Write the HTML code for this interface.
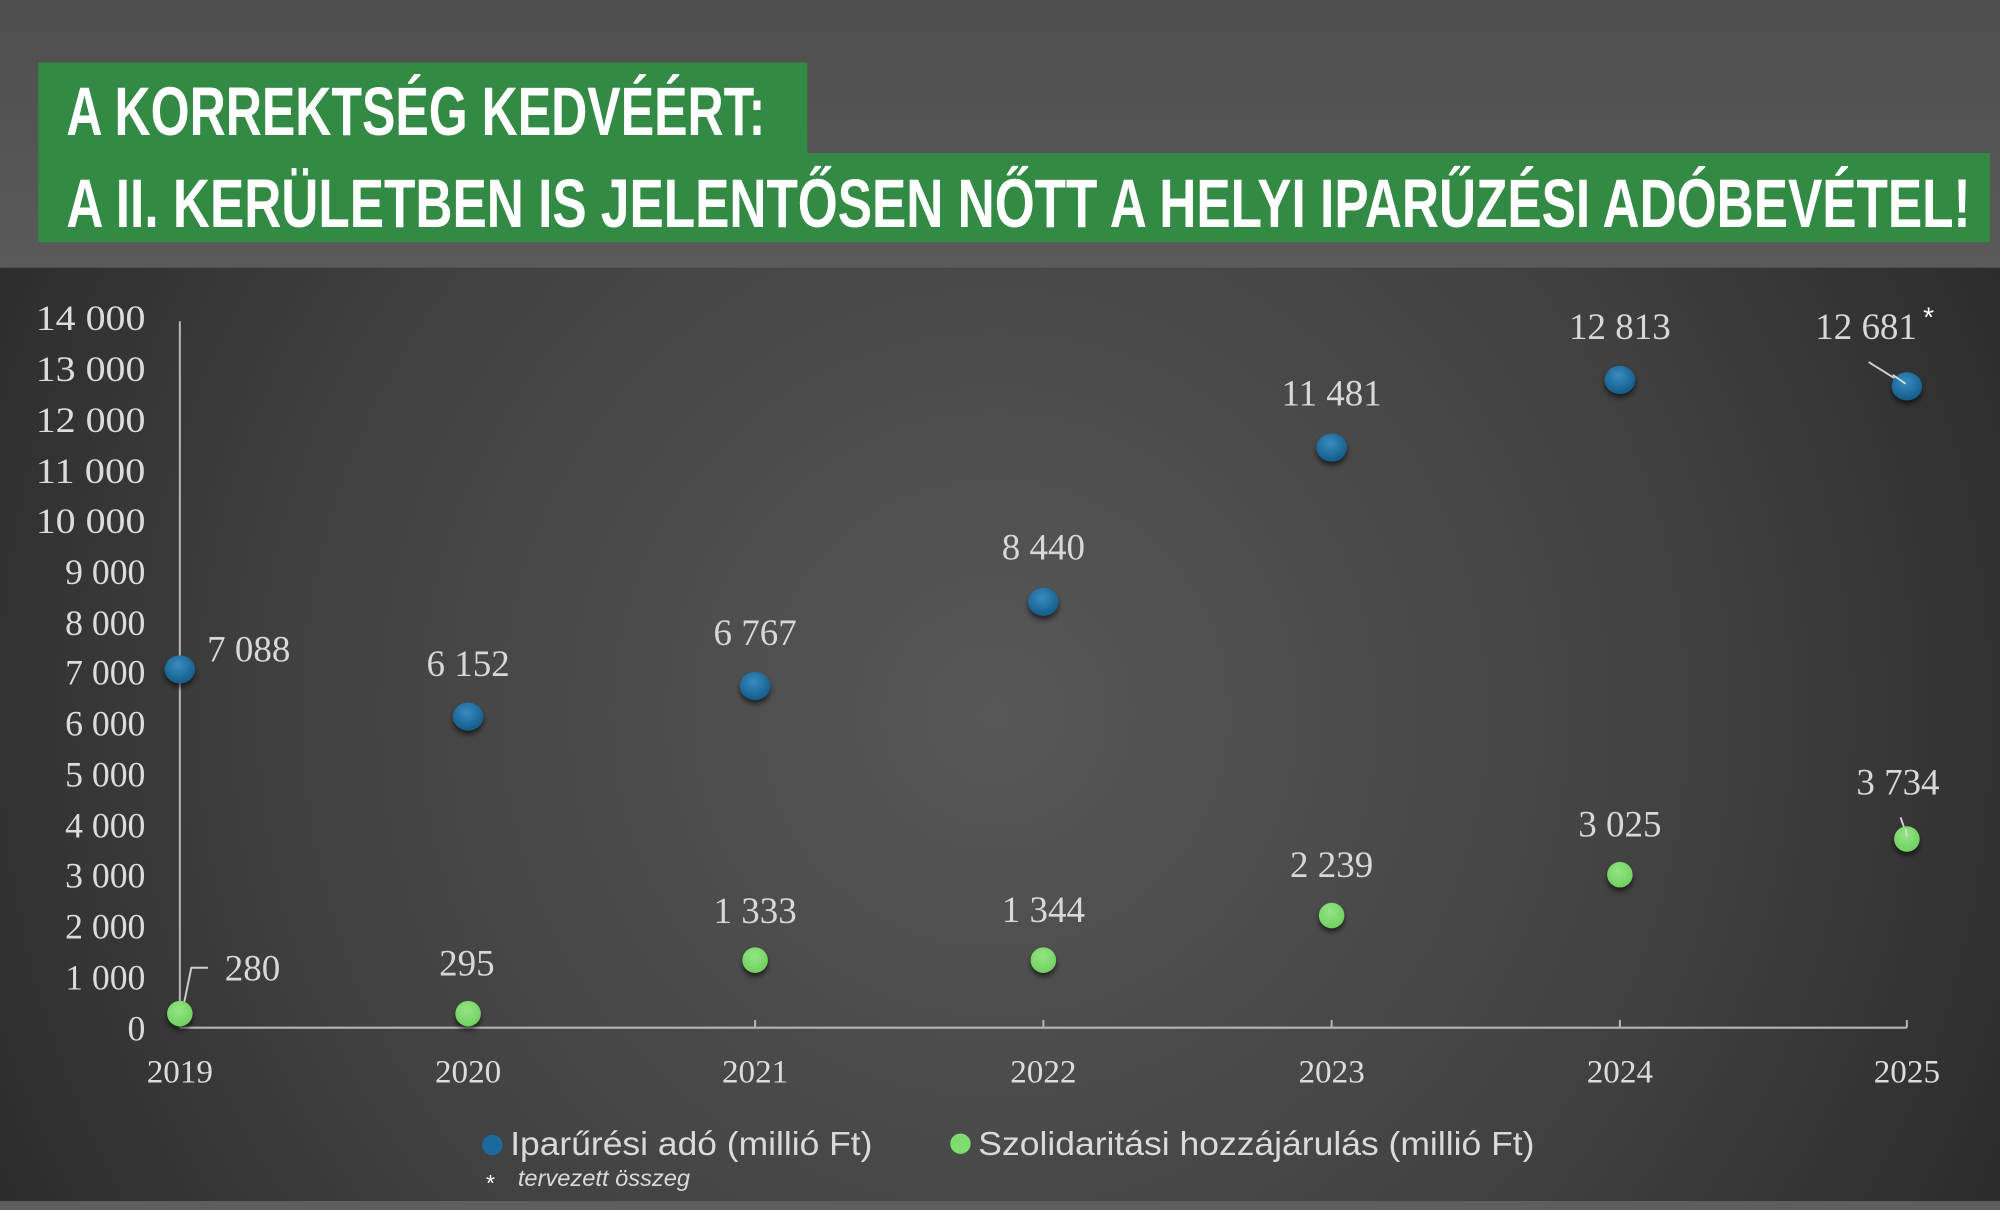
<!DOCTYPE html>
<html><head><meta charset="utf-8"><style>
html,body{margin:0;padding:0;background:#555;}
svg{display:block;}
</style></head><body>
<svg width="2000" height="1210" viewBox="0 0 1568 949" preserveAspectRatio="none" xmlns="http://www.w3.org/2000/svg">
<defs>
<radialGradient id="bg" cx="780" cy="560" r="900" gradientUnits="userSpaceOnUse">
<stop offset="0" stop-color="#575757"/><stop offset="0.6" stop-color="#414141"/><stop offset="1" stop-color="#2a2a2a"/>
</radialGradient>
<linearGradient id="hd" x1="0" y1="0" x2="0" y2="1"><stop offset="0" stop-color="#4e4e4e"/><stop offset="1" stop-color="#5a5a5a"/></linearGradient>
<radialGradient id="bd" cx="0.45" cy="0.35" r="0.6"><stop offset="0" stop-color="#3a8cc0"/><stop offset="1" stop-color="#155f8e"/></radialGradient>
<radialGradient id="gd" cx="0.45" cy="0.35" r="0.6"><stop offset="0" stop-color="#95e585"/><stop offset="1" stop-color="#72d262"/></radialGradient>
<filter id="sh" x="-50%" y="-50%" width="200%" height="200%"><feDropShadow dx="0" dy="3" stdDeviation="2" flood-color="#000" flood-opacity="0.6"/></filter>
</defs>
<rect x="0" y="0" width="1568" height="210" fill="url(#hd)"/>
<rect x="0" y="210" width="1568" height="732" fill="url(#bg)"/>
<rect x="0" y="942" width="1568" height="7" fill="#5e5e5e"/>
<rect x="30" y="49" width="603" height="72" fill="#338a45"/>
<rect x="30" y="120" width="1530" height="70" fill="#338a45"/>
<g font-family="Liberation Sans Narrow, Liberation Sans, sans-serif" font-weight="bold" fill="#fff" font-size="54">
<text x="52" y="106" textLength="548" lengthAdjust="spacingAndGlyphs">A KORREKTSÉG KEDVÉÉRT:</text>
<text x="52" y="178" textLength="1493" lengthAdjust="spacingAndGlyphs">A II. KERÜLETBEN IS JELENTŐSEN NŐTT A HELYI IPARŰZÉSI ADÓBEVÉTEL!</text>
</g>
<g stroke="#b5b5b5" stroke-width="1.6" fill="none">
<line x1="141" y1="252" x2="141" y2="806"/>
<line x1="141" y1="806" x2="1495" y2="806"/>
<line x1="367" y1="806" x2="367" y2="800"/><line x1="592" y1="806" x2="592" y2="800"/><line x1="818" y1="806" x2="818" y2="800"/><line x1="1044" y1="806" x2="1044" y2="800"/><line x1="1270" y1="806" x2="1270" y2="800"/><line x1="1495" y1="806" x2="1495" y2="800"/>
</g>
<g font-family="Liberation Serif, serif" font-size="28" fill="#dcdcdc" text-anchor="end">
<text x="114" y="259" textLength="86" lengthAdjust="spacingAndGlyphs">14 000</text>
<text x="114" y="299" textLength="86" lengthAdjust="spacingAndGlyphs">13 000</text>
<text x="114" y="339" textLength="86" lengthAdjust="spacingAndGlyphs">12 000</text>
<text x="114" y="379" textLength="86" lengthAdjust="spacingAndGlyphs">11 000</text>
<text x="114" y="418" textLength="86" lengthAdjust="spacingAndGlyphs">10 000</text>
<text x="114" y="458">9 000</text>
<text x="114" y="498">8 000</text>
<text x="114" y="537">7 000</text>
<text x="114" y="577">6 000</text>
<text x="114" y="617">5 000</text>
<text x="114" y="657">4 000</text>
<text x="114" y="696">3 000</text>
<text x="114" y="736">2 000</text>
<text x="114" y="776">1 000</text>
<text x="114" y="816">0</text>
</g>
<g font-family="Liberation Serif, serif" font-size="26" fill="#dcdcdc" text-anchor="middle">
<text x="141" y="849">2019</text><text x="367" y="849">2020</text><text x="592" y="849">2021</text><text x="818" y="849">2022</text><text x="1044" y="849">2023</text><text x="1270" y="849">2024</text><text x="1495" y="849">2025</text>
</g>
<g stroke="#d0d0d0" stroke-width="1.5" fill="none">
<polyline points="143,793 150,759 163,759"/>
<line x1="1465" y1="284" x2="1494" y2="302"/>
<line x1="1490" y1="641" x2="1495" y2="655"/>
</g>
<g filter="url(#sh)">
<ellipse cx="141" cy="525" rx="12" ry="11" fill="url(#bd)"/>
<ellipse cx="367" cy="562" rx="12" ry="11" fill="url(#bd)"/>
<ellipse cx="592" cy="538" rx="12" ry="11" fill="url(#bd)"/>
<ellipse cx="818" cy="472" rx="12" ry="11" fill="url(#bd)"/>
<ellipse cx="1044" cy="351" rx="12" ry="11" fill="url(#bd)"/>
<ellipse cx="1270" cy="298" rx="12" ry="11" fill="url(#bd)"/>
<ellipse cx="1495" cy="303" rx="12" ry="11" fill="url(#bd)"/>
<ellipse cx="141" cy="795" rx="10" ry="10" fill="url(#gd)"/>
<ellipse cx="367" cy="795" rx="10" ry="10" fill="url(#gd)"/>
<ellipse cx="592" cy="753" rx="10" ry="10" fill="url(#gd)"/>
<ellipse cx="818" cy="753" rx="10" ry="10" fill="url(#gd)"/>
<ellipse cx="1044" cy="718" rx="10" ry="10" fill="url(#gd)"/>
<ellipse cx="1270" cy="686" rx="10" ry="10" fill="url(#gd)"/>
<ellipse cx="1495" cy="658" rx="10" ry="10" fill="url(#gd)"/>
</g>
<g stroke="#e0e0e0" stroke-width="1.3"><line x1="1484" y1="294" x2="1494" y2="301"/><line x1="1494" y1="650" x2="1495" y2="656"/></g>
<g font-family="Liberation Serif, serif" font-size="29" fill="#d8d8d8" text-anchor="middle">
<text x="195" y="519">7 088</text>
<text x="367" y="530">6 152</text>
<text x="592" y="506">6 767</text>
<text x="818" y="439">8 440</text>
<text x="1044" y="318">11 481</text>
<text x="1270" y="266">12 813</text>
<text x="1463" y="266">12 681</text>
<text x="198" y="769">280</text>
<text x="366" y="765">295</text>
<text x="592" y="724">1 333</text>
<text x="818" y="723">1 344</text>
<text x="1044" y="688">2 239</text>
<text x="1270" y="656">3 025</text>
<text x="1488" y="623">3 734</text>
</g>
<text x="1512" y="256" font-family="Liberation Sans, sans-serif" font-size="22" fill="#fff" text-anchor="middle">*</text>
<circle cx="386" cy="898" r="8" fill="#1a6a9c"/>
<circle cx="753" cy="897" r="8" fill="#7fdc6e"/>
<g font-family="Liberation Sans Narrow, Liberation Sans, sans-serif" font-size="26" fill="#dadada">
<text x="400" y="906" textLength="284" lengthAdjust="spacingAndGlyphs">Iparűrési adó (millió Ft)</text>
<text x="767" y="906" textLength="436" lengthAdjust="spacingAndGlyphs">Szolidaritási hozzájárulás (millió Ft)</text>
</g>
<text x="381" y="934" font-family="Liberation Sans, sans-serif" font-size="18" fill="#fff">*</text>
<text x="406" y="930" font-family="Liberation Sans Narrow, Liberation Sans, sans-serif" font-style="italic" font-size="18" fill="#dadada" textLength="135" lengthAdjust="spacingAndGlyphs">tervezett összeg</text>
</svg>
</body></html>
